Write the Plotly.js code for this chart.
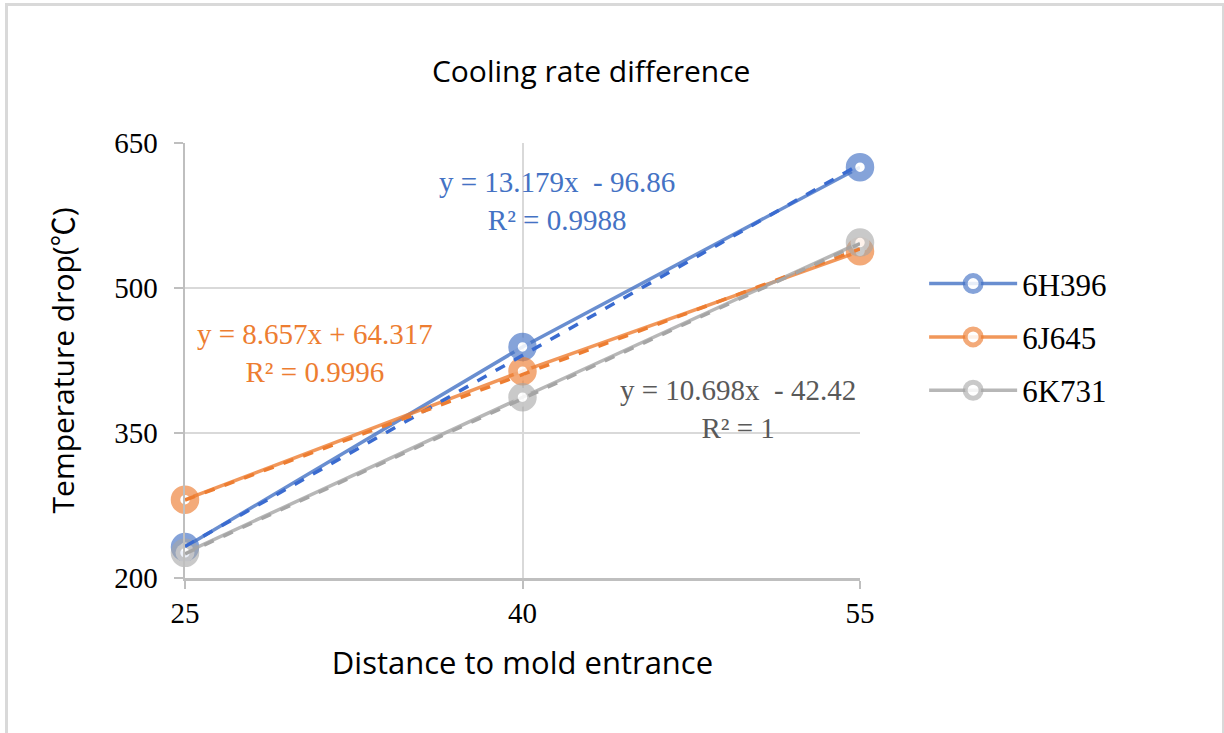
<!DOCTYPE html>
<html>
<head>
<meta charset="utf-8">
<script src="https://cdn.plot.ly/plotly-3.0.1.min.js"></script>
<style>
  html, body { margin: 0; padding: 0; background: #ffffff; }
  #wrap { position: relative; width: 1224px; height: 733px; overflow: hidden; }
  #chart { position: absolute; left: 0; top: 0; width: 1224px; height: 733px; }
  #frame { position: absolute; left: 5px; top: 3px; width: 1214px; height: 760px;
           border: 3px solid #d9d9d9; pointer-events: none; }
</style>
</head>
<body>
<div id="wrap">
  <div id="chart"></div>
  <div id="frame"></div>
</div>
<script>
// ---- data ----
const distance = [25, 40, 55];
const seriesNames = ["6H396", "6J645", "6K731"];
const drop6H396 = [232, 439, 625];
const drop6J645 = [281, 414, 538];
const drop6K731 = [226, 387, 547];

// linear trendlines (end points at x = 25 and x = 55)
const trendX = [25, 55];
const trend6H396 = [232.6, 628.0];
const trend6J645 = [280.7, 540.4];
const trend6K731 = [225.0, 546.0];

const trendLabels = [
  "y = 13.179x  - 96.86<br>R² = 0.9988",
  "y = 8.657x + 64.317<br>R² = 0.9996",
  "y = 10.698x  - 42.42<br>R² = 1"
];
const yTicks = [200, 350, 500, 650];
const xTicks = [25, 40, 55];

// ---- styles ----
const lineCols  = ["rgba(68,114,196,0.8)", "rgba(237,125,49,0.8)", "rgba(165,165,165,0.8)"];
const ringCols  = ["rgba(68,114,196,0.65)", "rgba(237,125,49,0.65)", "rgba(165,165,165,0.6)"];
const trendCols = ["#3a6bd0", "#ed7d31", "#a5a5a5"];
const dataSets  = [drop6H396, drop6J645, drop6K731];
const trendSets = [trend6H396, trend6J645, trend6K731];

const serif = "Liberation Serif, Times New Roman, serif";
const sans  = "Open Sans, Noto Sans, sans-serif";

const traces = [];
for (let i = 0; i < 3; i++) {
  traces.push({
    type: "scatter", mode: "lines+markers",
    x: distance, y: dataSets[i], name: seriesNames[i],
    legendgroup: seriesNames[i], cliponaxis: false,
    line: { color: lineCols[i], width: 3.5 },
    marker: { symbol: "circle", size: 19, color: "rgba(255,255,255,0.85)",
              line: { color: ringCols[i], width: 9.5 } },
    hoverinfo: "x+y"
  });
}
for (let i = 0; i < 3; i++) {
  traces.push({
    type: "scatter", mode: "lines",
    x: trendX, y: trendSets[i], showlegend: false, cliponaxis: false,
    line: { color: trendCols[i], width: 3.5, dash: "dash" },
    hoverinfo: "skip"
  });
}

const annCols = ["#4472c4", "#ed7d31", "#595959"];
const annPos = [[41.55, 590], [30.78, 433], [49.58, 375]];
const annotations = trendLabels.map((t, i) => ({
  x: annPos[i][0], y: annPos[i][1], xref: "x", yref: "y",
  text: t, showarrow: false, align: "center",
  font: { family: serif, size: 29, color: annCols[i] }
}));

const layout = {
  width: 1224, height: 733,
  margin: { l: 185, r: 364, t: 143, b: 155 },
  paper_bgcolor: "rgba(0,0,0,0)", plot_bgcolor: "#ffffff",
  title: { text: "Cooling rate difference", x: 0.483, xanchor: "center",
           y: 0.903, yanchor: "middle", yref: "container",
           font: { family: sans, size: 30, color: "#000000" } },
  xaxis: {
    range: [25, 55], tickvals: xTicks, ticktext: xTicks.map(String),
    showgrid: true, gridcolor: "#d9d9d9", gridwidth: 2,
    showline: true, linecolor: "#bfbfbf", linewidth: 2.5,
    ticks: "outside", ticklen: 8, tickwidth: 2, tickcolor: "#bfbfbf",
    zeroline: false,
    tickfont: { family: serif, size: 29, color: "#000000" },
    title: { text: "Distance to mold entrance", standoff: 24,
             font: { family: sans, size: 31, color: "#000000" } }
  },
  yaxis: {
    range: [200, 650], tickvals: yTicks, ticktext: yTicks.map(String),
    showgrid: true, gridcolor: "#d9d9d9", gridwidth: 2,
    showline: true, linecolor: "#bfbfbf", linewidth: 2.5,
    ticks: "outside", ticklen: 9, tickwidth: 2, tickcolor: "#bfbfbf",
    ticklabelstandoff: 10,
    zeroline: false,
    tickfont: { family: serif, size: 29, color: "#000000" },
    title: { text: "Temperature drop(℃)", standoff: 31,
             font: { family: "Open Sans, Noto Sans CJK SC, sans-serif", size: 30, color: "#000000" } }
  },
  legend: {
    x: 1.095, y: 0.738, xanchor: "left", yanchor: "top",
    bgcolor: "rgba(0,0,0,0)", traceorder: "grouped", tracegroupgap: 10,
    font: { family: serif, size: 31, color: "#000000" }, itemwidth: 88
  },
  annotations: annotations,
  showlegend: true
};

Plotly.newPlot("chart", traces, layout, { displayModeBar: false, staticPlot: true });
</script>
</body>
</html>
